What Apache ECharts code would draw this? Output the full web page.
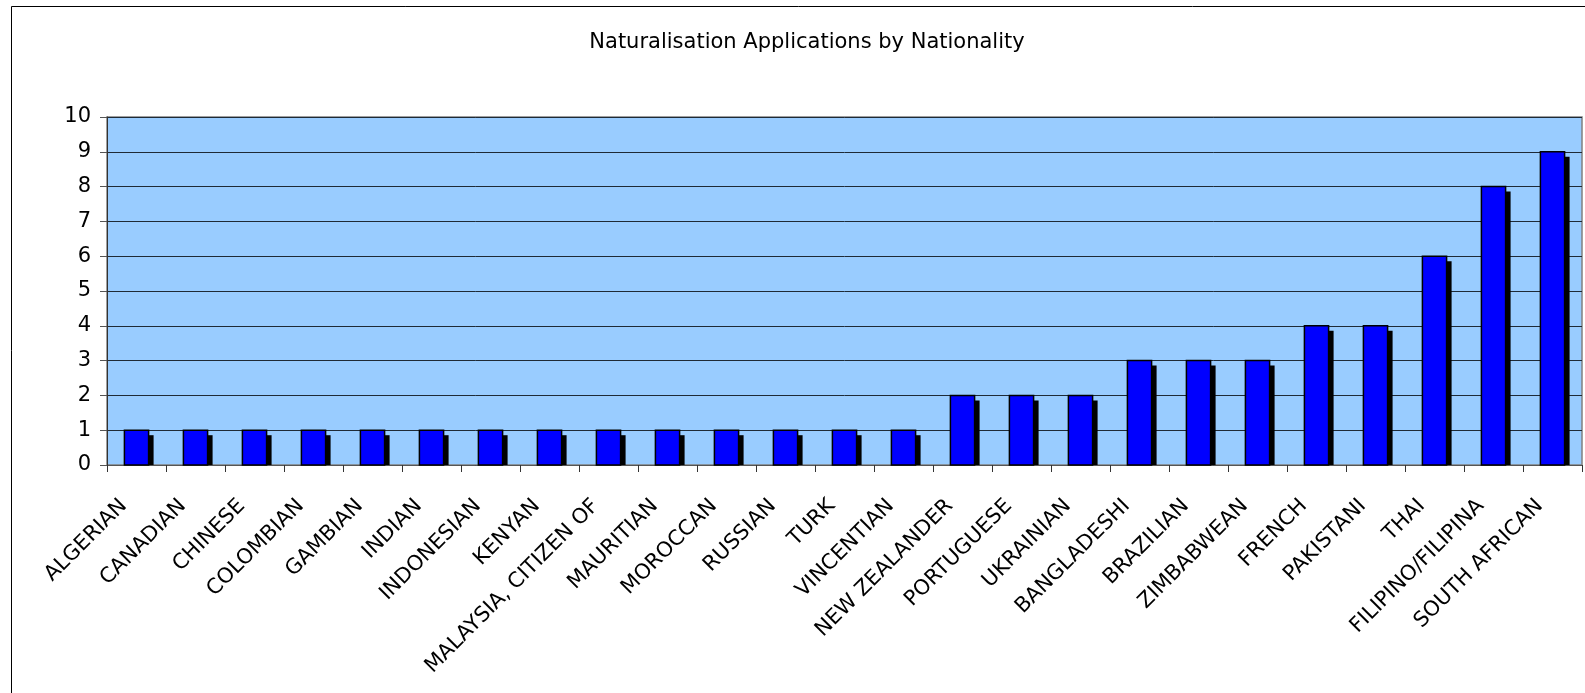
<!DOCTYPE html>
<html>
<head>
<meta charset="utf-8">
<script src="https://cdn.jsdelivr.net/npm/echarts@6/dist/echarts.min.js"></script>
<style>
html,body{margin:0;padding:0;background:#fff;}
#chart{width:1585px;height:693px;}
</style>
</head>
<body>
<div id="chart"></div>
<script>
const titleText = 'Naturalisation Applications by Nationality';
const categories = ['ALGERIAN','CANADIAN','CHINESE','COLOMBIAN','GAMBIAN','INDIAN','INDONESIAN','KENYAN','MALAYSIA, CITIZEN OF','MAURITIAN','MOROCCAN','RUSSIAN','TURK','VINCENTIAN','NEW ZEALANDER','PORTUGUESE','UKRAINIAN','BANGLADESHI','BRAZILIAN','ZIMBABWEAN','FRENCH','PAKISTANI','THAI','FILIPINO/FILIPINA','SOUTH AFRICAN'];
const applications = [1,1,1,1,1,1,1,1,1,1,1,1,1,1,2,2,2,3,3,3,4,4,6,8,9];
const yTicks = {min:0, max:10, interval:1};

const FONT = 'DejaVu Sans, Verdana, sans-serif';
const chart = echarts.init(document.getElementById('chart'));

function renderBar(params, api) {
  const cat = api.value(0);
  const val = api.value(1);
  const top = api.coord([cat, val]);
  const base = api.coord([cat, 0]);
  const band = api.size([1, 0])[0];
  const w = band * 0.41;
  const x = top[0] - w / 2;
  const h = base[1] - top[1];
  const off = 5;
  return {
    type: 'group',
    children: [
      {type:'rect', shape:{x:x+off, y:top[1]+off, width:w, height:Math.max(0,h-off)}, style:{fill:'#000'}},
      {type:'rect', shape:{x:x, y:top[1], width:w, height:h}, style:{fill:'#0000FF', stroke:'#000', lineWidth:1.5}}
    ]
  };
}

chart.setOption({
  animation:false,
  backgroundColor:'#fff',
  title:{
    text:titleText, left:802, top:27, textAlign:'center',
    textStyle:{fontFamily:FONT, fontSize:21, fontWeight:'normal', color:'#000'}
  },
  graphic:[{type:'rect', z:-10, shape:{x:11.5, y:6.5, width:2000, height:2000}, style:{fill:'none', stroke:'#000', lineWidth:1}}],
  grid:{left:107, top:117, right:3, bottom:228, show:true, backgroundColor:'#99CCFF', borderColor:'#808080', borderWidth:1.5},
  xAxis:{
    type:'category', data:categories,
    axisLine:{show:true, lineStyle:{color:'#555', width:1}},
    axisTick:{show:true, alignWithLabel:false, length:7, lineStyle:{color:'#333'}},
    axisLabel:{interval:0, rotate:45, margin:25, padding:[0,18,0,0], fontFamily:FONT, fontSize:21, color:'#000'},
    splitLine:{show:false}
  },
  yAxis:{
    type:'value', min:yTicks.min, max:yTicks.max, interval:yTicks.interval,
    axisLine:{show:true, lineStyle:{color:'#333', width:1}},
    axisTick:{show:true, length:7, lineStyle:{color:'#555'}},
    axisLabel:{margin:16, fontFamily:FONT, fontSize:21, color:'#000'},
    splitLine:{show:true, lineStyle:{color:'#1e2a36', width:1}}
  },
  series:[{
    type:'custom', renderItem:renderBar,
    data: applications.map((v,i)=>[i,v]),
    encode:{x:0, y:1}
  }]
});
</script>
</body>
</html>
